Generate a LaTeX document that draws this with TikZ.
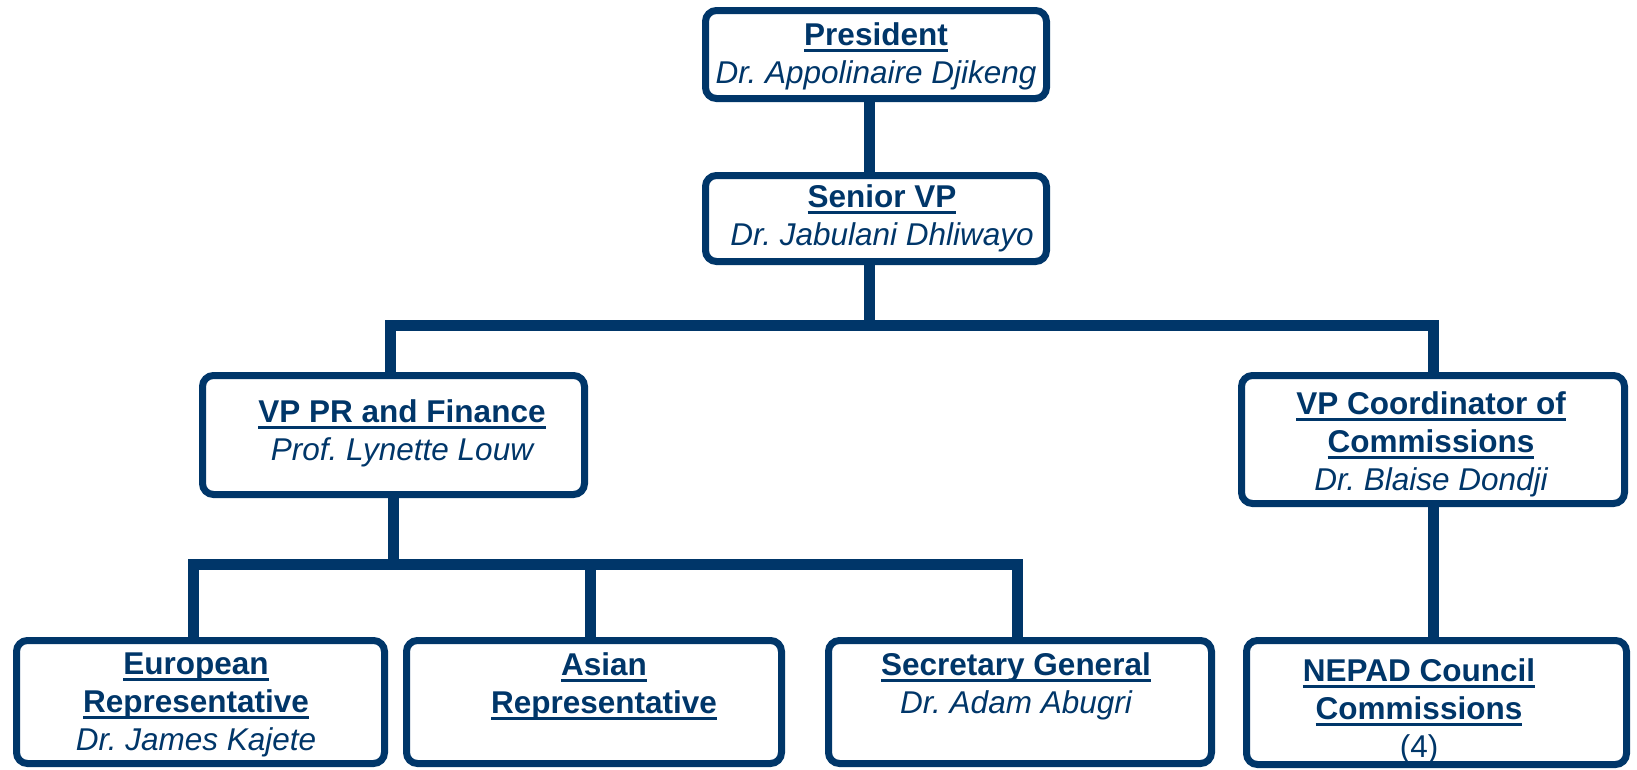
\documentclass[tikz,border=0pt]{standalone}
\usepackage{fontspec}
\setmainfont{Liberation Sans}
\frenchspacing
\definecolor{navy}{RGB}{0,54,105}
\newcommand\hd[1]{\setbox0\hbox{\bfseries #1}\rlap{\color{navy}\rule[-7pt]{\wd0}{3.5pt}}\box0}
\tikzset{
  box/.style={draw=navy, line width=7pt, rounded corners=11pt, fill=white, inner sep=0pt},
  conn/.style={draw=navy, line width=11pt, line join=miter},
  txt/.style={text=navy, align=center, font=\fontsize{31.5}{38}\selectfont\frenchspacing, inner sep=0pt, anchor=base}
}
\begin{document}
\begin{tikzpicture}[x=1pt,y=-1pt]
\useasboundingbox (0,0) rectangle (1637,769);
% boxes
\node[box, minimum width=341pt, minimum height=88pt] (pres) at (876,54.5) {};
\node[box, minimum width=341pt, minimum height=86pt] (svp) at (876,218.5) {};
\node[box, minimum width=382pt, minimum height=119pt] (vppr) at (393.5,435) {};
\node[box, minimum width=383pt, minimum height=128pt] (vpc) at (1433,439.5) {};
\node[box, minimum width=368pt, minimum height=123pt] (eur) at (200.5,702) {};
\node[box, minimum width=375pt, minimum height=123pt] (asian) at (594,702) {};
\node[box, minimum width=383pt, minimum height=123pt] (sec) at (1020,702) {};
\node[box, minimum width=380pt, minimum height=124pt] (nepad) at (1436.5,702.5) {};
% connectors
\coordinate (bar1) at (0,325.5);
\coordinate (bar2) at (0,564);
\draw[conn] ([xshift=-7pt]pres.south) -- ([xshift=-7pt]svp.north);
\draw[conn] ([xshift=-7pt]svp.south) -- ([xshift=-7pt]svp.south |- bar1);
\draw[conn] ([xshift=-3pt]vppr.north) -- ([xshift=-3pt]vppr.north |- bar1) -- (vpc.north |- bar1) -- (vpc.north);
\draw[conn] (vppr.south) -- (vppr.south |- bar2);
\draw[conn] ([xshift=-7.5pt]eur.north) -- ([xshift=-7.5pt]eur.north |- bar2) -- ([xshift=-3pt]sec.north |- bar2) -- ([xshift=-3pt]sec.north);
\draw[conn] ([xshift=-4pt]asian.north) -- ([xshift=-4pt]asian.north |- bar2);
\draw[conn] (vpc.south) -- (vpc.south |- nepad.north);
% texts (anchor = baseline of last line)
\node[txt] (tpres) at (876,83) {\hd{President}\\\itshape Dr. Appolinaire Djikeng};
\node[txt] (tsvp) at (882,245) {\hd{Senior VP}\\\itshape Dr. Jabulani Dhliwayo};
\node[txt] (tvppr) at (402,460) {\hd{VP PR and Finance}\\\itshape Prof. Lynette Louw};
\node[txt] (tvpc) at (1431,490) {\hd{VP Coordinator of}\\\hd{Commissions}\\\itshape Dr. Blaise Dondji};
\node[txt] (teur) at (196,750) {\hd{European}\\\hd{Representative}\\\itshape Dr. James Kajete};
\node[txt] (tasian) at (604,713) {\hd{Asian}\\\hd{Representative}};
\node[txt] (tsec) at (1016,713) {\hd{Secretary General}\\\itshape Dr. Adam Abugri};
\node[txt] (tnepad) at (1419,757) {\hd{NEPAD Council}\\\hd{Commissions}\\(4)};
\end{tikzpicture}
\end{document}
